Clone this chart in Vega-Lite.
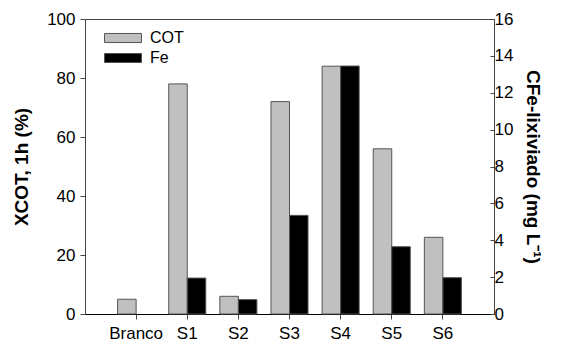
{
  "$schema": "https://vega.github.io/schema/vega-lite/v6.json",
  "autosize": {"type": "none"},
  "width": 409,
  "height": 295,
  "padding": {"left": 85, "top": 19, "right": 70, "bottom": 33},
  "background": "white",
  "config": {
    "font": "Liberation Sans",
    "view": {"stroke": "#444", "strokeWidth": 1},
    "axis": {"grid": false, "domainColor": "#444", "tickColor": "#444", "labelFont": "Liberation Sans", "labelFontSize": 17, "labelColor": "#000", "titleFont": "Liberation Sans", "titleColor": "#000"}
  },
  "data": {
    "values": [
      {"cat": "Branco", "series": "COT", "value": 5},
      {"cat": "S1", "series": "COT", "value": 78},
      {"cat": "S2", "series": "COT", "value": 6},
      {"cat": "S3", "series": "COT", "value": 72},
      {"cat": "S4", "series": "COT", "value": 84},
      {"cat": "S5", "series": "COT", "value": 56},
      {"cat": "S6", "series": "COT", "value": 26},
      {"cat": "Branco", "series": "Fe", "value": 0},
      {"cat": "S1", "series": "Fe", "value": 1.95},
      {"cat": "S2", "series": "Fe", "value": 0.78},
      {"cat": "S3", "series": "Fe", "value": 5.35},
      {"cat": "S4", "series": "Fe", "value": 13.45},
      {"cat": "S5", "series": "Fe", "value": 3.65},
      {"cat": "S6", "series": "Fe", "value": 1.97}
    ]
  },
  "encoding": {
    "x": {
      "field": "cat", "type": "nominal", "sort": null,
      "scale": {"domain": ["Branco", "S1", "S2", "S3", "S4", "S5", "S6"], "paddingInner": 0, "paddingOuter": 0.5},
      "axis": {"title": null, "labelAngle": 0, "tickSize": 5, "labelPadding": 6, "domainColor": "#000"}
    },
    "xOffset": {"field": "series", "type": "nominal", "scale": {"domain": ["COT", "Fe"], "paddingOuter": 0.38, "paddingInner": 0}},
    "color": {
      "field": "series", "type": "nominal",
      "scale": {"domain": ["COT", "Fe"], "range": ["#c0c0c0", "#000000"]},
      "legend": {
        "title": null, "orient": "none", "legendX": 28, "legendY": 9,
        "symbolType": "M-2,-0.49H2V0.49H-2Z", "symbolSize": 342,
        "symbolStrokeColor": "#555", "symbolStrokeWidth": 1,
        "labelFontSize": 16, "labelFont": "Liberation Sans", "labelColor": "#000",
        "labelOffset": 17, "rowPadding": 2, "symbolOffset": 0
      }
    }
  },
  "layer": [
    {
      "transform": [{"filter": "datum.series === 'COT'"}],
      "mark": {"type": "bar", "stroke": "#555", "strokeWidth": 1},
      "encoding": {
        "y": {
          "field": "value", "type": "quantitative",
          "scale": {"domain": [0, 100], "nice": false},
          "axis": {"values": [0, 20, 40, 60, 80, 100], "tickSize": 5, "labelPadding": 5, "title": "XCOT, 1h (%)", "titleFontSize": 19, "titleFontWeight": "bold", "titlePadding": 15}
        }
      }
    },
    {
      "transform": [{"filter": "datum.series === 'Fe' && datum.value > 0"}],
      "mark": {"type": "bar", "stroke": "#555", "strokeWidth": 1},
      "encoding": {
        "y": {
          "field": "value", "type": "quantitative",
          "scale": {"domain": [0, 16], "nice": false},
          "axis": {"orient": "right", "values": [0, 2, 4, 6, 8, 10, 12, 14, 16], "tickSize": -4, "labelPadding": 4, "title": "CFe-lixiviado (mg L⁻¹)", "titleFontSize": 19, "titleFontWeight": "bold", "titlePadding": 10}
        }
      }
    }
  ],
  "resolve": {"scale": {"y": "independent"}}
}
